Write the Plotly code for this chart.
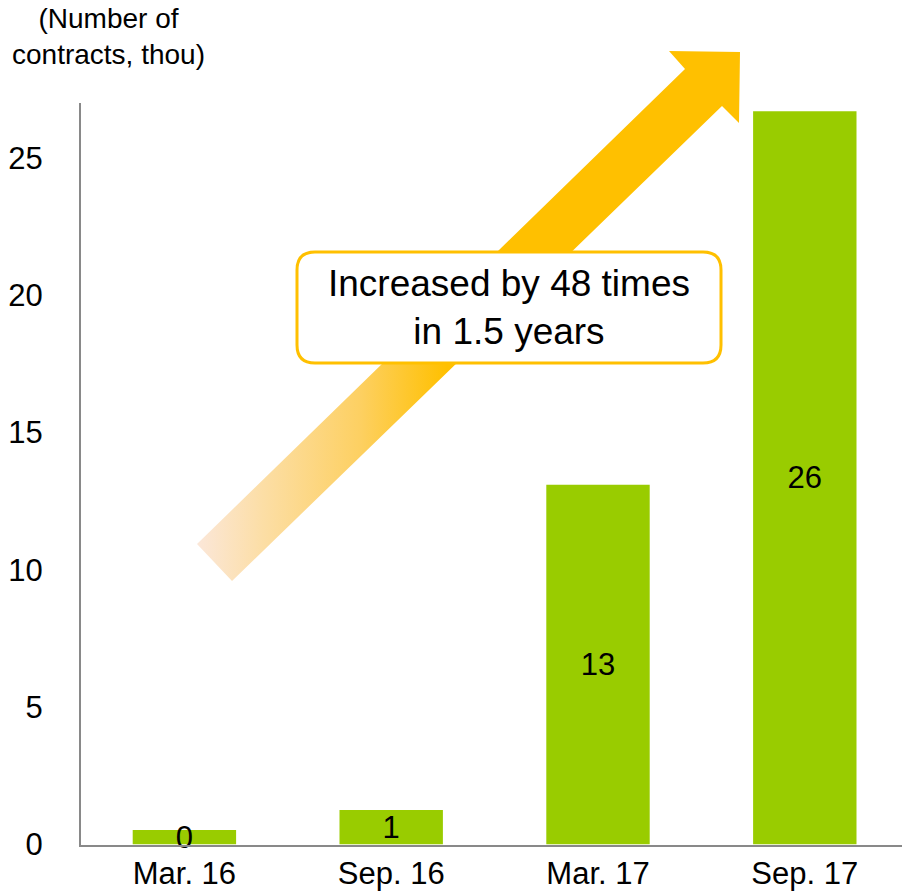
import plotly.graph_objects as go

# Contract counts (thousands) at each half-year point
periods = ["Mar. 16", "Sep. 16", "Mar. 17", "Sep. 17"]
contracts_thou = [0.53, 1.26, 13.1, 26.7]
bar_labels = [str(int(v)) for v in contracts_thou]
y_ticks = [0, 5, 10, 15, 20, 25]

FONT = "Liberation Sans, Arial, sans-serif"
W, H = 902, 892

fig = go.Figure()

fig.add_trace(go.Bar(
    x=periods,
    y=contracts_thou,
    width=0.5,
    marker=dict(color="#99CC00", line=dict(width=0)),
    text=bar_labels,
    textposition="inside",
    insidetextanchor="middle",
    textangle=0,
    constraintext="none",
    textfont=dict(family=FONT, size=31, color="#000000"),
    cliponaxis=False,
    hoverinfo="skip",
    xaxis="x",
    yaxis="y",
))

# Decorative growth arrow, drawn on a pixel-space overlay (x right, y down)
arrow_x = [197, 685, 669, 740, 739, 722, 232, 197]
arrow_y = [544, 69, 51, 52, 123, 106, 581, 544]
fig.add_trace(go.Scatter(
    x=arrow_x,
    y=arrow_y,
    mode="lines",
    line=dict(width=0, color="rgba(0,0,0,0)"),
    fill="toself",
    fillgradient=dict(
        type="horizontal",
        colorscale=[
            [0.0, "#FBE7D9"],
            [0.12, "#FCDEA6"],
            [0.3, "#FDD062"],
            [0.46, "#FFC000"],
            [1.0, "#FFC000"],
        ],
    ),
    hoverinfo="skip",
    showlegend=False,
    xaxis="x2",
    yaxis="y2",
))

# Rounded callout box
bx0, bx1, by0, by1, r = 297, 721, 252, 363, 18
box_path = (
    f"M {bx0 + r},{by0} L {bx1 - r},{by0} Q {bx1},{by0} {bx1},{by0 + r} "
    f"L {bx1},{by1 - r} Q {bx1},{by1} {bx1 - r},{by1} "
    f"L {bx0 + r},{by1} Q {bx0},{by1} {bx0},{by1 - r} "
    f"L {bx0},{by0 + r} Q {bx0},{by0} {bx0 + r},{by0} Z"
)
fig.add_shape(
    type="path",
    path=box_path,
    xref="x2",
    yref="y2",
    line=dict(color="#FFC000", width=3),
    fillcolor="#FFFFFF",
    layer="above",
)

fig.add_annotation(
    x=(bx0 + bx1) / 2,
    y=(by0 + by1) / 2,
    xref="x2",
    yref="y2",
    text="Increased by 48 times<br>in 1.5 years",
    showarrow=False,
    align="center",
    xanchor="center",
    yanchor="middle",
    font=dict(family=FONT, size=37, color="#000000"),
)

# Unit label above the value axis
fig.add_annotation(
    x=108 / W,
    y=1 - 36 / H,
    xref="paper",
    yref="paper",
    text="(Number of<br>contracts, thou)",
    showarrow=False,
    align="center",
    xanchor="center",
    yanchor="middle",
    font=dict(family=FONT, size=28, color="#000000"),
)

fig.update_layout(
    width=W,
    height=H,
    margin=dict(l=0, r=0, t=0, b=0, autoexpand=False),
    paper_bgcolor="#FFFFFF",
    plot_bgcolor="rgba(0,0,0,0)",
    showlegend=False,
    xaxis=dict(
        domain=[81 / W, 1.0],
        range=[-0.5, 3.47],
        showline=True,
        linecolor="#898989",
        linewidth=2,
        showgrid=False,
        zeroline=False,
        ticks="",
        ticklabelstandoff=0,
        tickfont=dict(family=FONT, size=31, color="#000000"),
        automargin=False,
        fixedrange=True,
    ),
    yaxis=dict(
        domain=[1 - 844.5 / H, 1 - 103 / H],
        range=[0, 27],
        tickvals=y_ticks,
        showline=True,
        linecolor="#898989",
        linewidth=2,
        showgrid=False,
        zeroline=False,
        ticks="",
        ticklabelstandoff=30,
        tickfont=dict(family=FONT, size=31, color="#000000"),
        automargin=False,
        fixedrange=True,
    ),
    xaxis2=dict(
        domain=[0, 1],
        range=[0, W],
        anchor="y2",
        visible=False,
        fixedrange=True,
    ),
    yaxis2=dict(
        domain=[0, 1],
        range=[H, 0],
        anchor="x2",
        visible=False,
        fixedrange=True,
    ),
)

fig.write_html("out.html", config={"displayModeBar": False})
